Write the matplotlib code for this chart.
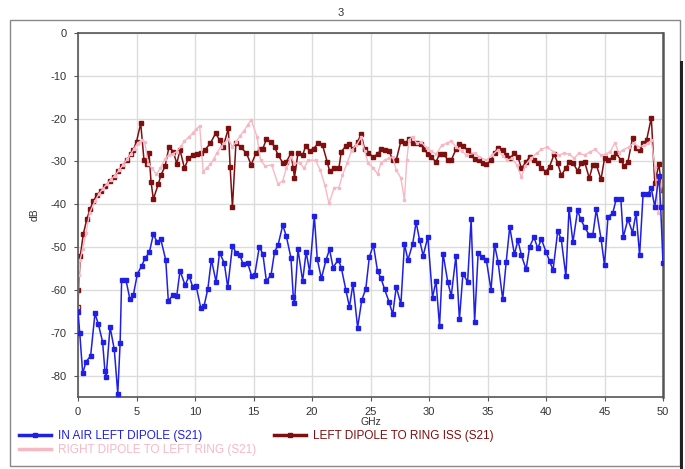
import matplotlib
matplotlib.use("Agg")
import matplotlib.pyplot as plt
from matplotlib.patches import Rectangle

plt.rcParams['font.family'] = ['Liberation Sans', 'DejaVu Sans']
plt.rcParams['axes.unicode_minus'] = False

# ---------------- data ----------------
blue_x = [0.0, 0.15, 0.4, 0.68, 1.08, 1.45, 1.74, 2.1, 2.3, 2.4, 2.74, 3.1, 3.4, 3.6, 3.73, 4.1, 4.44, 4.73,
          5.07, 5.44, 5.73, 6.1, 6.44, 6.78, 7.07, 7.5, 7.72, 8.1, 8.44, 8.72, 9.15, 9.5, 9.8, 10.1, 10.5,
          10.77, 11.1, 11.4, 11.8, 12.1, 12.5, 12.8, 13.2, 13.5, 13.85, 14.1, 14.5, 14.85, 15.1, 15.5, 15.8,
          16.1, 16.5, 16.8, 17.1, 17.5, 17.8, 18.2, 18.4, 18.5, 18.8, 19.2, 19.5, 19.8, 20.2, 20.45, 20.8,
          21.2, 21.5, 21.8, 22.25, 22.5, 22.9, 23.2, 23.5, 23.9, 24.25, 24.6, 24.9, 25.25, 25.6, 25.9, 26.2,
          26.6, 26.9, 27.2, 27.6, 27.9, 28.2, 28.6, 28.9, 29.2, 29.5, 29.9, 30.3, 30.6, 30.9, 31.2, 31.6,
          31.9, 32.3, 32.6, 32.9, 33.3, 33.6, 33.9, 34.2, 34.56, 34.9, 35.3, 35.6, 35.9, 36.3, 36.6, 36.9,
          37.3, 37.6, 37.9, 38.3, 38.6, 38.97, 39.3, 39.6, 40.0, 40.3, 40.6, 41.0, 41.3, 41.7, 41.97, 42.3,
          42.7, 42.96, 43.3, 43.7, 44.0, 44.3, 44.7, 45.0, 45.3, 45.7, 46.0, 46.4, 46.6, 47.0, 47.4, 47.7,
          48.0, 48.3, 48.7, 49.0, 49.3, 49.65, 49.8, 50.0]
blue_y = [-65.1, -70, -79.5, -76.8, -75.4, -65.5, -68, -72.1, -78.9, -80.4, -68.6, -73.9, -84.2, -72.4, -57.7,
          -57.7, -62.2, -61.2, -56.3, -54.4, -52.6, -51.2, -47.0, -48.9, -48.1, -53, -62.6, -61.2, -61.4,
          -55.5, -58.9, -56.7, -59.3, -59.1, -64.3, -63.8, -59.7, -52.9, -58.1, -51.3, -53.7, -59.4, -49.7,
          -51.3, -51.9, -54, -53.7, -56.8, -56.5, -49.9, -51.6, -57.9, -56.5, -51.1, -49.5, -44.9, -47.4,
          -52.5, -61.6, -63, -50.5, -57.9, -51.1, -55.8, -42.8, -52.8, -57.3, -53, -50.5, -54.8, -52.9,
          -54.8, -60, -64, -58.6, -68.8, -62.4, -59.7, -52.3, -49.5, -55.6, -57.3, -59.8, -62.9, -65.7,
          -59.3, -63.3, -49.3, -53, -49.3, -44.2, -48.4, -52, -47.6, -61.8, -57.9, -68.5, -51.5, -58.1,
          -61.4, -52.1, -66.9, -56.2, -58.1, -43.5, -67.4, -51.3, -52.3, -53, -60, -49.4, -53.4, -62.2,
          -53.4, -45.3, -51.7, -48.4, -51.9, -55.2, -49.9, -47.7, -50.3, -48.1, -51.1, -53.2, -55.4, -46.3,
          -48.1, -56.8, -41, -48.9, -41.4, -43.5, -45.3, -47.2, -47.2, -41.2, -48, -54.2, -42.9, -42.1,
          -38.8, -38.8, -47.7, -43.5, -46.6, -42, -51.9, -37.5, -37.6, -36.3, -40.6, -33.4, -40.6, -53.8]

red_x = [0.0, 0.04, 0.2, 0.45, 0.75, 1.05, 1.3, 1.6, 2.0, 2.35, 2.7, 3.1, 3.45, 3.8, 4.16, 4.5, 4.73, 5.0,
         5.36, 5.64, 5.87, 6.07, 6.24, 6.44, 6.86, 7.09, 7.44, 7.78, 8.15, 8.44, 8.72, 9.1, 9.43, 9.8,
         10.15, 10.5, 10.85, 11.3, 11.77, 12.1, 12.4, 12.85, 13.0, 13.2, 13.5, 13.9, 14.4, 14.8, 15.2,
         15.56, 15.8, 16.1, 16.5, 16.8, 17.1, 17.5, 17.8, 18.2, 18.4, 18.5, 18.8, 19.2, 19.46, 19.8, 20.15,
         20.5, 20.9, 21.3, 21.5, 21.9, 22.3, 22.5, 22.9, 23.2, 23.5, 23.9, 24.2, 24.5, 24.8, 25.25, 25.6,
         25.9, 26.2, 26.6, 26.9, 27.2, 27.6, 27.95, 28.3, 28.6, 28.95, 29.3, 29.6, 29.9, 30.2, 30.6, 30.9,
         31.3, 31.6, 31.9, 32.3, 32.6, 32.9, 33.3, 33.6, 33.9, 34.3, 34.6, 34.9, 35.3, 35.6, 35.9, 36.3,
         36.6, 36.9, 37.3, 37.6, 37.9, 38.3, 38.6, 39.0, 39.3, 39.6, 40.0, 40.3, 40.7, 41.0, 41.3, 41.7,
         42.0, 42.3, 42.7, 43.0, 43.3, 43.7, 44.0, 44.3, 44.7, 45.0, 45.3, 45.7, 46.0, 46.4, 46.7, 47.0,
         47.4, 47.7, 48.0, 48.3, 48.6, 49.0, 49.3, 49.65, 49.9]
red_y = [-64, -60, -52, -47, -43.5, -41, -39.3, -37.9, -36.8, -35.7, -34.6, -33.6, -32.2, -31, -29.7, -28.3,
         -27.3, -25.4, -21.1, -29.7, -30.5, -28, -34.7, -38.8, -35.3, -33.2, -31.1, -26.6, -27.7, -30.5,
         -27.3, -31.6, -29.3, -28.5, -28.3, -28.1, -27.3, -25.8, -23.4, -25, -26.6, -22.3, -31.2, -40.7,
         -25.6, -26.6, -28.1, -30.8, -28.1, -27.2, -27.0, -24.8, -25.4, -26.6, -28.5, -30.3, -30.1, -28.1,
         -31.6, -33.8, -28.1, -28.5, -26.4, -27.5, -27, -25.8, -26.2, -30.1, -32.2, -31.6, -31.6, -27.7,
         -26.4, -26, -27.2, -25.4, -23.6, -27.2, -28.1, -28.9, -28.3, -27.2, -27.3, -27.6, -29.7, -29.7,
         -25.2, -25.8, -24.8, -25.8, -25.8, -25.9, -27.2, -28.3, -29, -30.1, -28.3, -28.3, -29.7, -29.7,
         -27.2, -26, -26.5, -27.3, -28.5, -29.5, -29.7, -30.4, -30.7, -29.7, -28.1, -26.8, -27.3, -28.5,
         -29.3, -28.1, -28.9, -31.6, -30.1, -28.9, -29.7, -30.4, -31.5, -32.4, -31.2, -28.3, -30.4, -33.2,
         -31.6, -30.1, -30.3, -32.2, -30.4, -30.1, -33.9, -30.8, -30.8, -34.2, -29.3, -29.7, -29, -28.1,
         -29.7, -31.1, -30.1, -24.5, -26.9, -27.3, -25.8, -25, -19.8, -35.1, -30.6, -36.7]

pink_x = [0.0, 0.08, 0.17, 0.4, 0.68, 1.0, 1.45, 1.8, 2.1, 2.45, 2.8, 3.15, 3.5, 3.85, 4.2, 4.5, 4.8, 5.1,
          5.44, 5.7, 6.0, 6.3, 6.7, 7.05, 7.4, 7.75, 8.1, 8.44, 8.8, 9.1, 9.45, 9.8, 10.1, 10.4, 10.7, 11.0,
          11.3, 11.6, 11.85, 12.2, 12.5, 12.85, 13.2, 13.5, 13.85, 14.2, 14.5, 14.8, 15.3, 15.6, 16.0,
          16.55, 17.1, 17.5, 17.8, 18.2, 18.5, 19.0, 19.3, 19.7, 20.3, 20.7, 21.1, 21.45, 21.9, 22.3, 22.6,
          23.0, 23.4, 23.8, 24.2, 24.5, 24.8, 25.25, 25.6, 25.9, 26.2, 26.55, 26.9, 27.2, 27.6, 27.9, 28.1,
          28.3, 28.6, 28.95, 29.3, 29.8, 30.2, 30.6, 31.1, 31.5, 31.9, 32.3, 32.8, 33.2, 33.9, 34.3, 34.9,
          35.4, 35.9, 36.3, 36.7, 37.1, 37.5, 37.9, 38.2, 38.7, 39.2, 39.6, 40.1, 40.6, 41.1, 41.5, 42.0,
          42.4, 42.8, 43.3, 43.8, 44.2, 44.7, 45.1, 45.5, 45.9, 46.2, 46.6, 47.1, 47.5, 47.9, 48.4, 48.7,
          49.0, 49.3, 49.6, 49.9]
pink_y = [-64, -56.5, -53, -50.5, -46.7, -42, -39.3, -37.5, -36.5, -35.3, -34.3, -33.3, -32.1, -30.8, -29.5,
          -28.3, -27, -25.7, -25, -25.4, -30.5, -31.5, -33, -31.5, -29.5, -28.5, -28.2, -27.7, -26.5, -25.2,
          -24.4, -23.4, -22.5, -21.7, -32.4, -31.5, -30.7, -29.5, -28.1, -26.6, -25.8, -24.8, -26.6, -25.5,
          -24, -22.8, -21.5, -20.3, -24.2, -29.7, -31.1, -30.8, -35.3, -34.5, -31.6, -28.9, -30.4, -30.4,
          -31.6, -29.7, -29.7, -32, -35.5, -39.8, -36.1, -36.1, -33.2, -30.4, -27.3, -26.2, -24.4, -27.6,
          -30.4, -31.6, -32.9, -30.4, -29.7, -29.3, -28.9, -32, -33.9, -39, -29.7, -24.9, -24.2, -25.8,
          -25.4, -26.9, -27.6, -28.3, -26.2, -25.8, -25.2, -26.6, -27.6, -28.5, -28.1, -28.9, -29.7, -28.5,
          -27.3, -28.7, -29.7, -29.3, -30.8, -33.7, -31, -29.3, -28.1, -27.2, -26.6, -27.7, -28.5, -28.1,
          -28.3, -29.3, -28.1, -28.5, -27.7, -27.2, -28.5, -28.3, -27.7, -25.6, -28, -27.3, -26.6, -25.6,
          -26.6, -26.2, -25.8, -25, -31.2, -42.1, -34.5]

labels = ["IN AIR LEFT DIPOLE (S21)", "LEFT DIPOLE TO RING ISS (S21)", "RIGHT DIPOLE TO LEFT RING (S21)"]
x_ticks = [0, 5, 10, 15, 20, 25, 30, 35, 40, 45, 50]
y_ticks = [0, -10, -20, -30, -40, -50, -60, -70, -80]

# ---------------- figure ----------------
W, H = 685, 469
fig = plt.figure(figsize=(W / 100, H / 100), dpi=100)

# outer frame with a dark shadow on the right
fig.patches.append(Rectangle((10 / W, 1 - 466 / H), 670 / W, 446 / H, transform=fig.transFigure,
                             fill=False, edgecolor='#888888', linewidth=1.0))
fig.patches.append(Rectangle((680 / W, 1 - 469 / H), 3 / W, 408 / H, transform=fig.transFigure,
                             facecolor='#222222', edgecolor='none'))
fig.text(341 / W, 1 - 13 / H, "3", ha='center', va='center', fontsize=8, color='#333333')

ax = fig.add_axes([78 / W, 1 - 397 / H, 585 / W, 364 / H])

c_blue = '#1f1fe6'
c_red = '#7f0f0f'
c_pink = '#f7b8c4'

l1, = ax.plot(blue_x, blue_y, color=c_blue, lw=1.1, marker='s', ms=2.2, mec=c_blue, zorder=3)
l2, = ax.plot(red_x, red_y, color=c_red, lw=1.1, marker='s', ms=2.2, mec=c_red, zorder=2)
l3, = ax.plot(pink_x, pink_y, color=c_pink, lw=1.0, marker='s', ms=1.8, mec=c_pink, zorder=2.5)

ax.set_xlim(0, 50)
ax.set_ylim(-85, 0)
ax.set_xticks(x_ticks)
ax.set_yticks(y_ticks)
ax.grid(True, color='#dcdcdc', lw=1.0)
ax.set_axisbelow(True)
for s in ax.spines.values():
    s.set_color('#555555')
    s.set_linewidth(1.2)
ax.spines['right'].set_linewidth(1.8)
ax.tick_params(axis='both', labelsize=8, colors='#555555', labelcolor='#333333', length=3, width=0.8)
ax.tick_params(axis='x', pad=4)
ax.tick_params(axis='y', pad=5)
ax.set_xlabel("GHz", fontsize=7.5, color='#333333', labelpad=0)
ax.set_ylabel("dB", fontsize=7.5, color='#333333', labelpad=8)

leg = fig.legend([l1, l3, l2], [labels[0], labels[2], labels[1]], ncol=2, loc='upper left',
                 bbox_to_anchor=(19 / W, 1 - 430 / H), frameon=False, fontsize=8.5,
                 handlelength=2.7, handletextpad=0.6, columnspacing=1.5, labelspacing=0.15,
                 borderaxespad=0, borderpad=0)
for t, c in zip(leg.get_texts(), [c_blue, c_pink, c_red]):
    t.set_color(c)
for h in leg.legend_handles:
    h.set_linewidth(2.5)

fig.savefig("out.png", dpi=100)
